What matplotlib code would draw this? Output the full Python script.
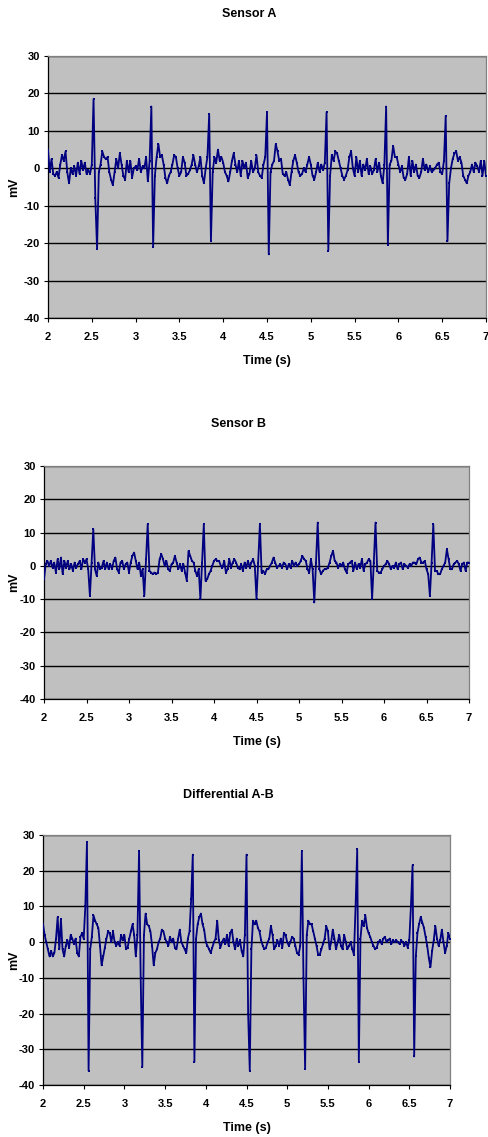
import numpy as np
import matplotlib
matplotlib.use('Agg')
import matplotlib.pyplot as plt

plt.rcParams['font.family'] = ['Liberation Sans Narrow', 'Liberation Sans', 'DejaVu Sans']
plt.rcParams['font.weight'] = 'bold'
plt.rcParams['axes.unicode_minus'] = False

# sample times (s), 20 ms apart
T = np.round(np.linspace(2.0, 7.0, 251), 2)

# mV, one row = 0.2 s
SENSOR_A = [
    5, -1, 2.5, -1.5, -2, -1, -2.5, 1, 3.5, 2,            # 2.0
    4.5, -1, -4, 0, -1.5, 0.5, -2, 1.5, -1.5, 2,          # 2.2
    -0.5, 1.5, -1.5, -0.5, -1.5, 1, 18.5, -8, -21.5, -1,  # 2.4
    1, 4.5, 3, 2.5, 3, -1, -3, -4.5, -1, 2.5,             # 2.6
    0, 4, 1, -2, -3, 2, -1, 2, -2.5, 0,                   # 2.8
    0.5, -0.5, 2.5, -1, 0.5, 0, 3, -3.5, 2, 16.5,         # 3.0
    -21, -2, 3, 6.5, 3, 3.5, 1, -2.5, -4, -2,             # 3.2
    -1, 1, 3.5, 3, 0, -2, -1, 3, 1.5, -2,                 # 3.4
    -1.5, -0.5, 1, 3.5, 1, -1, 0.5, 3, -2, -4,            # 3.6
    0, 3, 14.5, -19.5, -1, 3, 1.5, 5, 2, 3,               # 3.8
    1.5, -1, -2, -3.5, -1, 2, 4, 1, -1, 2,                # 4.0
    -2, 2, 0, 1.5, -2.5, -1.5, 2, -1, 0, 3.5,             # 4.2
    -1, -2, -2.5, 1, 3, 15, -23, -1, 1, 2,                # 4.4
    6.5, 4.5, 2, 2.5, -1.5, -2, -1, -3, -4.5, -1,         # 4.6
    2, 3.5, 1.5, -1, -2, -1.5, 0, -1, 1, 3,               # 4.8
    1, -2, -3, -1, 1.5, -1, 1, -0.5, 1.5, 15,             # 5.0
    -22, -2, 3.5, 2, 4.5, 4, 2, 0, -2, -3,                # 5.2
    -2, -0.5, 3, 4.5, 0, -2, 3, -1, 2, -2,                # 5.4
    1, -0.5, 2.5, -1.5, 0.5, -1.5, -0.5, 2.5, -1, 1.5,    # 5.6
    -2, -4, 1, 16.5, -20.5, 1, 2, 6, 3, 3,                # 5.8
    1, -1, 0.5, -2.5, -3, -1.5, 3, -2, 2, -1,             # 6.0
    1, -2, -2.5, -1, 2.5, -0.5, 1, -1, 0.5, -1,           # 6.2
    -0.5, 0, 1, 1.5, -1, -1.5, 2, 14, -19.5, -4,          # 6.4
    0, 2.5, 4, 4.5, 2, 3, 1.5, -2, -3, -4,                # 6.6
    -2, -1, 1, -1, 1.5, 0.5, -1, 2, -2, 2,                # 6.8
    -2,
]

SENSOR_B = [
    -4, 0.5, 1.5, 0, 1.5, -0.5, 1, -2, 2, -1,             # 2.0
    2.5, -2.5, 1.5, -0.5, 1.5, -1, 0.5, -1.5, 1, -0.5,    # 2.2
    0.5, 1.5, -1, 2, 1, 2, -1, -9, 1, 11,                 # 2.4
    -1, -3, 1, -1, -0.5, 1.5, -1, 1, -1, 0.5,             # 2.6
    -1, 1.5, 2.5, -1, -2, 1, 1.5, -1, 0.5, 1,             # 2.8
    -2, 1, 3, 4, 1.5, -1, 1, -3, -1, -9,                  # 3.0
    2, 12.5, -1.5, -2, -2.5, -2, -2.5, -2, 2, 3.5,        # 3.2
    2, 0, 1.5, -1, -1.5, 0.5, 1, 3, 1, -1,                # 3.4
    0.5, -1.5, 0.5, -2, -4.5, 4.5, 3, 1.5, 1, -1.5,       # 3.6
    -3, -1, -10, 1, 12.5, -4.5, -4, -2.5, -1.5, 0,        # 3.8
    1.5, 2, 1.5, 1.5, 0, -0.5, 1.5, -2, -1, 2,            # 4.0
    -0.5, 1, 2, 1, -0.5, -1, 0.5, -1.5, 1, -0.5,          # 4.2
    1.5, -0.5, 1, 2, 0, -10, 1, 12.5, -2, -1.5,           # 4.4
    -2.5, -1, -1, 0, 1, 2.5, 1, -0.5, 0, 0.5,             # 4.6
    -0.5, 1, 0.5, -1, 0.5, -0.5, 1.5, 0, 1, 0,            # 4.8
    0.5, 1.5, 3, 2, 1.5, -1, -2, 2, -1, -11,              # 5.0
    1, 13, -1, -2.5, -1.5, -1, -1, -0.5, 1, 3,            # 5.2
    4.5, 1.5, 1, -0.5, 0.5, 0, 1, -1, -2, 0.5,            # 5.4
    1, 1.5, -1.5, 1, -1, 0.5, -0.5, 2, -1.5, 0.5,         # 5.6
    1, 2, 1.5, -10, 1, 13, -1.5, -2, -2, -1,              # 5.8
    0, 0.5, 1.5, 0.5, -1, 0, -0.5, 1, -1, 0.5,            # 6.0
    1, -1, 0.5, 0, -0.5, 0.5, 0, 1, 1, 0.5,               # 6.2
    2, 2.5, 1, 1, 1.5, -1, -2.5, -9, 1, 12.5,             # 6.4
    -1.5, -1.5, -2.5, -2.5, -1, 0, 1, 5, 2, -1,           # 6.6
    -1, 0.5, 1, 1.5, 0.5, -1.5, 0.5, 1, -1.5, 1,          # 6.8
    1,
]

DIFF_AB = [
    5, 2, 0, -2, -4, -2.5, -4, -3, 1, 7,                  # 2.0
    -2, 6.5, -2, -4, -1, 0.5, -1.5, 2, 1, -0.5,           # 2.2
    1, -3, -4, 1.5, 2.5, 1, 10, 28, -36, -2,              # 2.4
    1.5, 7.5, 6, 5, 4, -1, -6.5, -4, -1.5, 1,             # 2.6
    3, 2.5, 0, 3, 0, -1, 0, -1, 2, 0.5,                   # 2.8
    2, -2, -1.5, 1, 3, 5, 2, -4, 2, 25.5,                 # 3.0
    -10, -35, 2, 8, 5, 4.5, 3, -1, -6.5, -3,              # 3.2
    -2, 0, 1, 3.5, 3, 1, 0, -1, 1.5, 0,                   # 3.4
    1, -1.5, -2, 1, 3.5, 0, -1, -2, -3, 1,                # 3.6
    3, 12, 24.5, -33.5, 1, 5, 7, 8, 5, 3.5,               # 3.8
    0, -1, -2, -3, -1.5, 0, 1, 6, 0.5, -1.5,              # 4.0
    0, 1, -0.5, 2, -1, 2.5, 3.5, 0, -2, 1,                # 4.2
    -1, 0.5, -2.5, -4, 2, 24.5, -20, -36, -2, 6,          # 4.4
    5, 6, 4, 3, 0.5, -1, -2, -1.5, 0, 1,                  # 4.6
    4.5, 2, -2, -1, 0.5, -1, 1, -1.5, 2.5, 2,             # 4.8
    0, -1, 0, 1.5, 1, -1, -3, -3.5, -1, 25.5,             # 5.0
    -10, -35.5, 2, 6, 5, 5, 3, 1, -1, -3.5,               # 5.2
    -3.5, -2, -0.5, 1, 4.5, 3, -2, 0, 3.5, 1,             # 5.4
    -2, 0, 2, -1, -2, 2, 0, -2, -1, 0,                    # 5.6
    -2, -3.5, 10, 26, -33.5, 1, 6, 4.5, 7.5, 4,           # 5.8
    2.5, 1.5, 0, -1, -2, -1.5, 0, 0.5, -0.5, 1,           # 6.0
    1.5, 0, 0.5, 1, -0.5, 0.5, 0, 0.5, 0, -0.5,           # 6.2
    0.5, 0, -1, 0, -1.5, 0.5, 10, 21.5, -32, -4,          # 6.4
    2.5, 5, 7, 5.5, 4, 1.5, -1, -4.5, -7, -2.5,           # 6.6
    0.5, 4.5, 1, -1, 0.5, 3.5, 0, -3, -1, 2.5,            # 6.8
    1,
]

TITLES = ['Sensor A', 'Sensor B', 'Differential A-B']
SERIES = [SENSOR_A, SENSOR_B, DIFF_AB]
Y_TICKS = [-40, -30, -20, -10, 0, 10, 20, 30]
X_TICKS = [2, 2.5, 3, 3.5, 4, 4.5, 5, 5.5, 6, 6.5, 7]
X_LABELS = ['2', '2.5', '3', '3.5', '4', '4.5', '5', '5.5', '6', '6.5', '7']

W, H = 488, 1137
# plot areas in pixels: left, top, right, bottom
BOXES = [(48, 56, 486, 318), (44, 466, 469, 699), (43, 835, 450, 1085)]
TITLE_Y = [14, 424, 795]

fig = plt.figure(figsize=(W / 100, H / 100), dpi=100)

for title, vals, (l, t, r, b), ty in zip(TITLES, SERIES, BOXES, TITLE_Y):
    assert len(vals) == len(T)
    ax = fig.add_axes([l / W, 1 - b / H, (r - l) / W, (b - t) / H])
    ax.set_facecolor('#C0C0C0')
    ax.plot(T, vals, color='#000080', lw=1.3, marker='s', ms=1.5, mew=0, zorder=3)
    ax.set_xlim(2, 7)
    ax.set_ylim(-40, 30)
    ax.set_xticks(X_TICKS, X_LABELS)
    ax.set_yticks(Y_TICKS)
    ax.yaxis.grid(True, color='black', lw=1.0)
    ax.set_axisbelow(True)
    ax.tick_params(direction='out', length=3, width=0.8, labelsize=8)
    ax.tick_params(axis='x', pad=7)
    ax.tick_params(axis='y', pad=3)
    for side in ('left', 'bottom'):
        ax.spines[side].set_color('black')
        ax.spines[side].set_linewidth(0.9)
    for side in ('top', 'right'):
        ax.spines[side].set_color('#808080')
        ax.spines[side].set_linewidth(0.9)

    cx = (l + r) / 2
    fig.text((cx - 18) / W, 1 - ty / H, title, ha='center', va='center', fontsize=9)
    fig.text(cx / W, 1 - (b + 43) / H, 'Time (s)', ha='center', va='center', fontsize=9)
    fig.text(14 / W, 1 - (t + b) / 2 / H, 'mV', ha='center', va='center',
             rotation=90, fontsize=9)

fig.savefig('out.png', dpi=100)
